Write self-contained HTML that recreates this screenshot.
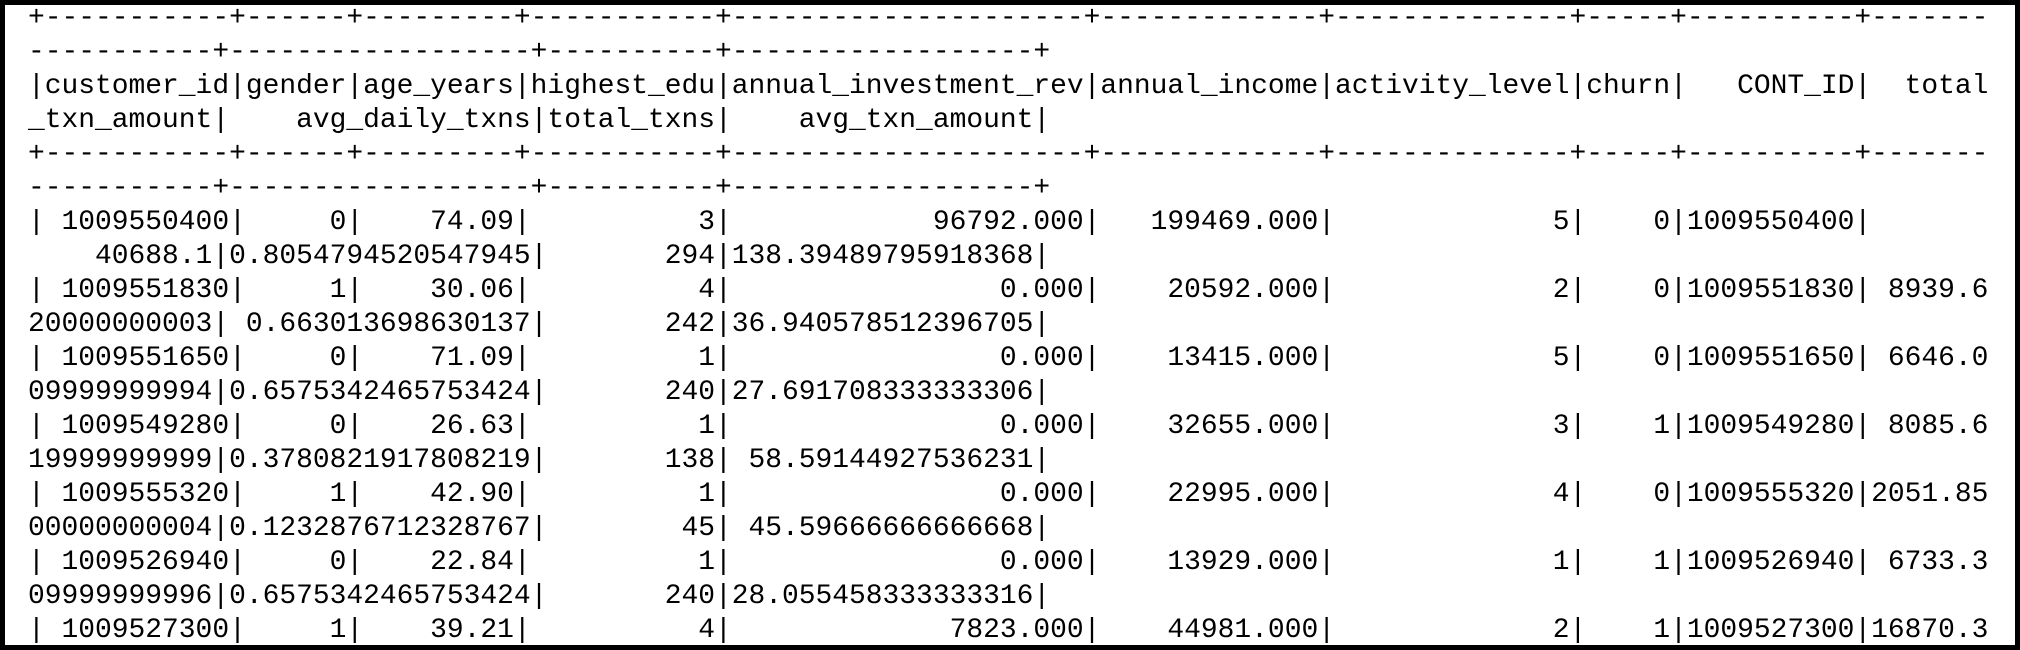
<!DOCTYPE html>
<html><head><meta charset="utf-8">
<style>
html,body{margin:0;padding:0;background:#fff;}
#frame{position:absolute;left:0;top:0;width:2020px;height:650px;box-sizing:border-box;border:5px solid #000;background:#fff;overflow:hidden;}
pre{position:absolute;left:23px;top:-3px;margin:0;font-family:"Liberation Mono","DejaVu Sans Mono",monospace;font-size:27.93px;line-height:34px;color:#000;white-space:pre;}
</style></head>
<body>
<div id="frame">
<pre>+-----------+------+---------+-----------+---------------------+-------------+--------------+-----+----------+-------
-----------+------------------+----------+------------------+
|customer_id|gender|age_years|highest_edu|annual_investment_rev|annual_income|activity_level|churn|   CONT_ID|  total
_txn_amount|    avg_daily_txns|total_txns|    avg_txn_amount|
+-----------+------+---------+-----------+---------------------+-------------+--------------+-----+----------+-------
-----------+------------------+----------+------------------+
| 1009550400|     0|    74.09|          3|            96792.000|   199469.000|             5|    0|1009550400|       
    40688.1|0.8054794520547945|       294|138.39489795918368|
| 1009551830|     1|    30.06|          4|                0.000|    20592.000|             2|    0|1009551830| 8939.6
20000000003| 0.663013698630137|       242|36.940578512396705|
| 1009551650|     0|    71.09|          1|                0.000|    13415.000|             5|    0|1009551650| 6646.0
09999999994|0.6575342465753424|       240|27.691708333333306|
| 1009549280|     0|    26.63|          1|                0.000|    32655.000|             3|    1|1009549280| 8085.6
19999999999|0.3780821917808219|       138| 58.59144927536231|
| 1009555320|     1|    42.90|          1|                0.000|    22995.000|             4|    0|1009555320|2051.85
00000000004|0.1232876712328767|        45| 45.59666666666668|
| 1009526940|     0|    22.84|          1|                0.000|    13929.000|             1|    1|1009526940| 6733.3
09999999996|0.6575342465753424|       240|28.055458333333316|
| 1009527300|     1|    39.21|          4|             7823.000|    44981.000|             2|    1|1009527300|16870.3</pre>
</div>
</body></html>
